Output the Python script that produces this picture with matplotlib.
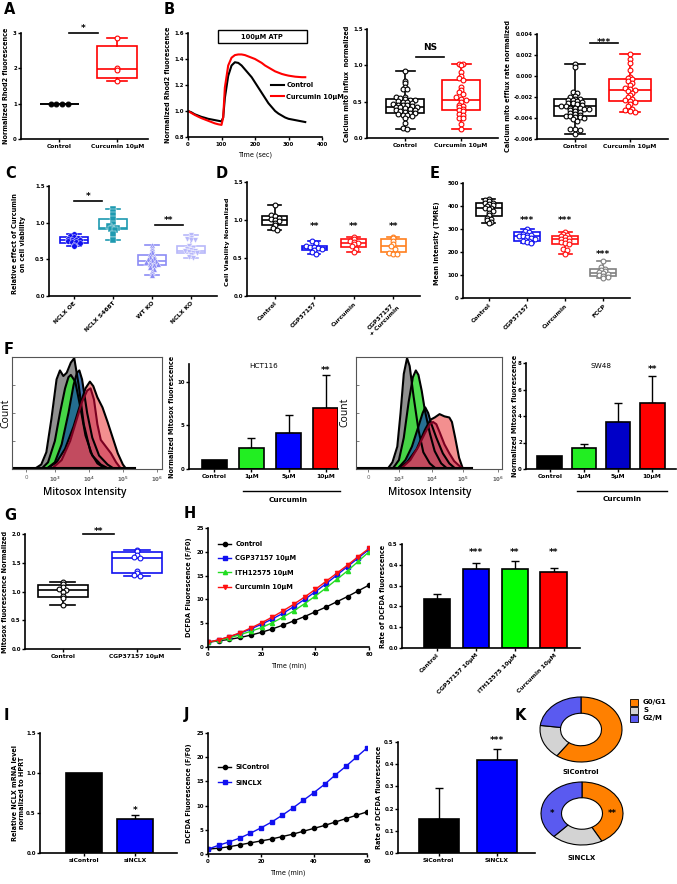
import numpy as np
import matplotlib
matplotlib.use('Agg')
import matplotlib.pyplot as plt
from matplotlib.patches import Rectangle
from matplotlib.lines import Line2D

plt.rcParams['font.family'] = ['DejaVu Sans']
plt.rcParams['font.weight'] = 'bold'

# ---------------- DATA ----------------
# Panel A
a_groups = ['Control', 'Curcumin 10µM']
a_ctrl = [1.0, 1.0, 1.0, 1.0]
a_curc = [2.85, 2.0, 1.95, 1.65]
a_ctrl_box = [1.0, 1.0, 1.0, 1.0, 1.0]      # whisker low, q1, median, q3, whisker high
a_curc_box = [1.65, 1.72, 1.97, 2.63, 2.85]

# Panel B traces
b_time = [0, 10, 20, 30, 40, 50, 60, 70, 80, 90, 100, 105, 110, 120, 130, 140, 150, 160, 170,
          180, 190, 200, 210, 220, 230, 240, 250, 260, 270, 280, 290, 300, 310, 320, 330, 340, 350]
b_ctrl = [1.0, 0.99, 0.975, 0.965, 0.955, 0.948, 0.94, 0.935, 0.93, 0.925, 0.92, 0.95, 1.10, 1.27,
          1.35, 1.375, 1.37, 1.35, 1.32, 1.29, 1.26, 1.22, 1.18, 1.14, 1.10, 1.06, 1.03, 1.0, 0.98,
          0.965, 0.95, 0.94, 0.935, 0.93, 0.925, 0.92, 0.915]
b_curc = [1.0, 0.985, 0.97, 0.957, 0.945, 0.935, 0.925, 0.915, 0.905, 0.898, 0.893, 0.95, 1.18,
          1.35, 1.41, 1.43, 1.435, 1.435, 1.43, 1.42, 1.41, 1.40, 1.385, 1.37, 1.35, 1.335, 1.32,
          1.305, 1.295, 1.285, 1.278, 1.272, 1.268, 1.264, 1.262, 1.26, 1.26]

# Panel B influx
influx_ctrl = [0.92, 0.79, 0.76, 0.70, 0.68, 0.67, 0.57, 0.56, 0.55, 0.53, 0.52, 0.52, 0.51, 0.50,
               0.49, 0.48, 0.47, 0.46, 0.45, 0.45, 0.44, 0.43, 0.42, 0.42, 0.41, 0.40, 0.39, 0.38,
               0.37, 0.36, 0.35, 0.34, 0.33, 0.32, 0.31, 0.30, 0.28, 0.20, 0.14, 0.13]
influx_curc = [1.02, 1.02, 1.01, 0.91, 0.85, 0.82, 0.80, 0.70, 0.66, 0.63, 0.61, 0.56, 0.53, 0.52,
               0.50, 0.46, 0.44, 0.42, 0.40, 0.38, 0.37, 0.33, 0.31, 0.28, 0.27, 0.19, 0.13]
influx_ctrl_box = [0.13, 0.35, 0.42, 0.53, 0.92]
influx_curc_box = [0.13, 0.38, 0.52, 0.80, 1.02]

# Panel B efflux
efflux_ctrl = [0.0011, 0.0009, -0.0015, -0.0016, -0.0019, -0.0020, -0.0022, -0.0022, -0.0023,
               -0.0023, -0.0024, -0.0025, -0.0026, -0.0026, -0.0027, -0.0028, -0.0029, -0.0029,
               -0.0030, -0.0030, -0.0030, -0.0031, -0.0031, -0.0032, -0.0033, -0.0034, -0.0035,
               -0.0036, -0.0037, -0.0038, -0.0038, -0.0039, -0.0039, -0.0040, -0.0041, -0.0043,
               -0.0050, -0.0050, -0.0051, -0.0055]
efflux_curc = [0.0021, 0.0016, 0.0012, 0.0006, -0.0001, -0.0002, -0.0003, -0.0005, -0.0007,
               -0.0009, -0.0011, -0.0012, -0.0013, -0.0014, -0.0016, -0.0018, -0.0020, -0.0022,
               -0.0023, -0.0024, -0.0025, -0.0027, -0.0029, -0.0031, -0.0032, -0.0033, -0.0034]
efflux_ctrl_box = [-0.0055, -0.0038, -0.0029, -0.0022, 0.0011]
efflux_curc_box = [-0.0034, -0.0024, -0.0013, -0.0003, 0.0021]

# Panel C
c_labels = ['NCLX OE', 'NCLX S468T', 'WT KO', 'NCLX KO']
c_pts = [
    [0.85, 0.82, 0.80, 0.79, 0.78, 0.77, 0.77, 0.76, 0.75, 0.74, 0.73, 0.72, 0.70, 0.68],
    [1.18, 1.14, 1.10, 1.05, 0.98, 0.95, 0.93, 0.93, 0.92, 0.90, 0.84, 0.77],
    [0.69, 0.66, 0.63, 0.60, 0.57, 0.55, 0.53, 0.52, 0.50, 0.49, 0.48, 0.47, 0.46, 0.45, 0.44,
     0.43, 0.42, 0.40, 0.37, 0.34, 0.31, 0.28],
    [0.83, 0.79, 0.78, 0.77, 0.76, 0.68, 0.66, 0.64, 0.63, 0.62, 0.61, 0.60, 0.59, 0.58, 0.56,
     0.53, 0.52],
]
c_boxes = [[0.68, 0.72, 0.77, 0.80, 0.85], [0.77, 0.92, 0.93, 1.05, 1.18],
           [0.28, 0.42, 0.48, 0.56, 0.69], [0.52, 0.58, 0.62, 0.68, 0.83]]

# Panel D
d_labels = ['Control', 'CGP37157', 'Curcumin', 'CGP37157\n+ Curcumin']
d_pts = [
    [1.20, 1.06, 1.05, 1.03, 1.01, 1.00, 0.99, 0.96, 0.93, 0.90, 0.87],
    [0.73, 0.70, 0.66, 0.65, 0.64, 0.63, 0.62, 0.61, 0.58, 0.55],
    [0.78, 0.75, 0.73, 0.71, 0.70, 0.69, 0.66, 0.62, 0.58],
    [0.78, 0.76, 0.73, 0.69, 0.66, 0.62, 0.57, 0.55, 0.55],
]
d_boxes = [[0.87, 0.93, 1.00, 1.05, 1.20], [0.55, 0.60, 0.63, 0.66, 0.73],
           [0.58, 0.64, 0.70, 0.75, 0.78], [0.55, 0.58, 0.66, 0.75, 0.78]]

# Panel E
e_labels = ['Control', 'CGP37157', 'Curcumin', 'FCCP']
e_pts = [
    [430, 425, 420, 415, 412, 408, 403, 398, 392, 390, 385, 380, 370, 360, 350, 345, 340, 330, 325],
    [298, 290, 285, 280, 276, 272, 270, 268, 266, 262, 258, 254, 250, 246, 242, 240],
    [285, 280, 275, 270, 265, 260, 255, 252, 248, 245, 240, 235, 215, 210, 190],
    [160, 135, 128, 122, 118, 112, 110, 106, 100, 95, 90, 85],
]
e_boxes = [[325, 355, 390, 415, 430], [240, 250, 268, 285, 298],
           [190, 235, 255, 270, 285], [85, 95, 110, 125, 160]]

# Panel F histograms (position in decade units, count in % of max)
hct_hist = {
    'gray': ([0.25, 0.45, 0.6, 0.75, 0.9, 1.0, 1.1, 1.2, 1.32, 1.42, 1.55, 1.7, 1.9, 2.1, 2.35],
             [0, 4, 15, 45, 80, 88, 83, 86, 95, 99, 75, 40, 15, 5, 0]),
    'green': ([0.45, 0.65, 0.85, 1.0, 1.15, 1.25, 1.32, 1.45, 1.6, 1.75, 1.95, 2.2, 2.45],
              [0, 6, 25, 50, 72, 82, 84, 78, 55, 30, 12, 4, 0]),
    'blue': ([0.6, 0.85, 1.05, 1.25, 1.4, 1.5, 1.57, 1.65, 1.8, 1.95, 2.15, 2.4, 2.6],
             [0, 6, 22, 50, 75, 86, 88, 80, 50, 28, 12, 4, 0]),
    'red1': ([0.6, 0.9, 1.15, 1.4, 1.6, 1.75, 1.88, 1.98, 2.1, 2.25, 2.4, 2.55, 2.7, 2.85, 2.95],
             [0, 6, 18, 38, 58, 72, 78, 74, 64, 55, 42, 28, 14, 4, 0]),
    'red2': ([0.75, 1.05, 1.3, 1.5, 1.65, 1.8, 1.9, 2.0, 2.1, 2.2, 2.35, 2.5, 2.65, 2.8],
             [0, 8, 25, 45, 60, 70, 72, 62, 40, 26, 20, 14, 6, 0]),
}
sw_hist = {
    'gray': ([0.6, 0.75, 0.9, 1.0, 1.1, 1.2, 1.28, 1.4, 1.55, 1.7, 1.9, 2.1],
             [0, 6, 20, 50, 85, 99, 92, 65, 35, 15, 5, 0]),
    'green': ([0.75, 0.95, 1.1, 1.25, 1.38, 1.47, 1.55, 1.65, 1.75, 1.9, 2.05, 2.25, 2.45],
              [0, 8, 28, 60, 82, 88, 84, 70, 52, 32, 16, 5, 0]),
    'blue': ([0.9, 1.15, 1.35, 1.55, 1.68, 1.76, 1.85, 1.95, 2.1, 2.3, 2.5, 2.7],
             [0, 8, 20, 38, 50, 55, 50, 40, 28, 14, 5, 0]),
    'red1': ([0.9, 1.2, 1.5, 1.75, 1.92, 2.05, 2.2, 2.35, 2.5, 2.58, 2.68, 2.8, 2.92],
             [0, 6, 18, 35, 44, 46, 49, 47, 46, 42, 28, 10, 0]),
    'red2': ([1.0, 1.3, 1.55, 1.75, 1.9, 2.0, 2.1, 2.2, 2.35, 2.5, 2.65, 2.8, 2.95],
             [0, 8, 20, 32, 40, 42, 40, 33, 22, 14, 7, 3, 0]),
}
hist_tick_labels = ['0', r'$10^3$', r'$10^4$', r'$10^5$', r'$10^6$']

# Panel F bars
f_labels = ['Control', '1µM', '5µM', '10µM']
hct_vals = [1.0, 2.4, 4.1, 7.0]
hct_sd = [0.0, 1.1, 2.1, 3.7]
sw_vals = [1.0, 1.6, 3.55, 5.0]
sw_sd = [0.0, 0.3, 1.45, 2.05]

# Panel G
g_labels = ['Control', 'CGP37157 10µM']
g_pts = [[1.16, 1.13, 1.08, 1.04, 1.02, 1.00, 0.93, 0.89, 0.77],
         [1.72, 1.70, 1.64, 1.60, 1.58, 1.35, 1.33, 1.29, 1.27]]
g_boxes = [[0.77, 0.90, 1.02, 1.11, 1.16], [1.27, 1.32, 1.58, 1.68, 1.72]]

# Panel H
h_time = [0, 4, 8, 12, 16, 20, 24, 28, 32, 36, 40, 44, 48, 52, 56, 60]
h_ctrl = [1.0, 1.3, 1.6, 2.0, 2.5, 3.1, 3.8, 4.6, 5.5, 6.4, 7.4, 8.4, 9.5, 10.6, 11.8, 13.0]
h_cgp = [1.0, 1.5, 2.1, 2.9, 3.8, 4.8, 5.9, 7.1, 8.5, 10.0, 11.6, 13.3, 15.1, 16.9, 18.7, 20.5]
h_ith = [1.0, 1.4, 1.9, 2.6, 3.3, 4.1, 5.1, 6.3, 7.6, 9.1, 10.7, 12.4, 14.2, 16.0, 18.0, 20.0]
h_curc = [1.0, 1.5, 2.2, 3.0, 4.0, 5.1, 6.3, 7.6, 9.0, 10.5, 12.1, 13.8, 15.5, 17.2, 19.0, 20.7]
hb_labels = ['Control', 'CGP37157 10µM', 'ITH12575 10µM', 'Curcumin 10µM']
hb_vals = [0.237, 0.38, 0.378, 0.367]
hb_sd = [0.025, 0.03, 0.042, 0.016]

# Panel I
i_labels = ['siControl', 'siNCLX']
i_vals = [1.0, 0.43]
i_sd = [0.0, 0.05]

# Panel J
j_time = [0, 4, 8, 12, 16, 20, 24, 28, 32, 36, 40, 44, 48, 52, 56, 60]
j_sictrl = [1.0, 1.2, 1.5, 1.9, 2.3, 2.7, 3.1, 3.6, 4.1, 4.7, 5.3, 5.9, 6.6, 7.3, 8.0, 8.7]
j_sinclx = [1.0, 1.8, 2.5, 3.3, 4.3, 5.4, 6.6, 8.0, 9.5, 11.1, 12.7, 14.4, 16.3, 18.1, 20.0, 21.9]
jb_labels = ['SiControl', 'SiNCLX']
jb_vals = [0.155, 0.42]
jb_sd = [0.14, 0.05]

# Panel K
k_phases = ['G0/G1', 'S', 'G2/M']
k_sicontrol = [60, 17, 23]
k_sinclx = [42, 20, 38]

# ---------------- FIGURE ----------------
W, H = 677, 884
fig = plt.figure(figsize=(W / 100, H / 100), dpi=100)
TFS = 4.3
YTFS = 3.9
LFS = 4.7
LW = 1.2


def add_ax(x0, y0, x1, y1):
    return fig.add_axes([x0 / W, 1 - y1 / H, (x1 - x0) / W, (y1 - y0) / H])


def prism(ax, xlim, ylim, yticks, yfmt=None):
    ax.set_xlim(xlim)
    ax.set_ylim(ylim)
    for s in ['top', 'right']:
        ax.spines[s].set_visible(False)
    for s in ['left', 'bottom']:
        ax.spines[s].set_linewidth(LW)
    ax.set_yticks(yticks)
    if yfmt:
        ax.set_yticklabels([yfmt % v for v in yticks])
    ax.tick_params(direction='out', length=2.0, width=1.0, labelsize=TFS, pad=1.5)
    ax.tick_params(axis='y', labelsize=YTFS, pad=1.0)


def cats(ax, labels, rot=0):
    ax.set_xticks(range(len(labels)))
    if rot:
        ax.set_xticklabels(labels, rotation=rot, ha='right', rotation_mode='anchor',
                           fontsize=TFS, multialignment='center')
    else:
        ax.set_xticklabels(labels, fontsize=TFS)


def ylab(ax, text, xpx, fs=LFS, dy=0):
    bb = ax.get_position()
    fig.text(xpx / W, (bb.y0 + bb.y1) / 2 - dy / H, text, rotation=90, ha='center',
             va='center', fontsize=fs, multialignment='center')


def letter(t, x, y):
    fig.text(x / W, 1 - y / H, t, fontsize=10.5, fontweight='bold', ha='left', va='center')


def swarm(vals, binw, dx):
    v = np.asarray(vals, float)
    keys = np.round(v / binw).astype(int)
    offs = np.zeros(len(v))
    for k in np.unique(keys):
        idx = np.where(keys == k)[0]
        n = len(idx)
        offs[idx] = (np.arange(n) - (n - 1) / 2) * dx
    return offs


def box(ax, i, st, color, width, capfrac=0.5):
    lo, q1, med, q3, hi = st
    ax.add_patch(Rectangle((i - width / 2, q1), width, q3 - q1, fill=False, edgecolor=color,
                           lw=LW, zorder=2))
    ax.plot([i - width / 2, i + width / 2], [med, med], color=color, lw=LW, zorder=2,
            solid_capstyle='butt')
    ax.plot([i, i], [q3, hi], color=color, lw=LW, zorder=2)
    ax.plot([i, i], [lo, q1], color=color, lw=LW, zorder=2)
    cw = width * capfrac / 2
    ax.plot([i - cw, i + cw], [hi, hi], color=color, lw=LW, zorder=2)
    ax.plot([i - cw, i + cw], [lo, lo], color=color, lw=LW, zorder=2)


def pts(ax, i, vals, binw, dx, color, fc='white', ec=None, marker='o', s=12, lw=0.8):
    offs = swarm(vals, binw, dx)
    ax.scatter(i + offs, vals, s=s, marker=marker, facecolor=fc,
               edgecolor=color if ec is None else ec, linewidth=lw, zorder=3)


def sig(ax, x0, x1, y, text, ty):
    ax.plot([x0, x1], [y, y], color='black', lw=LW, clip_on=False)
    ax.text((x0 + x1) / 2, ty, text, ha='center', va='center', fontsize=6.5, clip_on=False)


def stars(ax, x, y, text):
    ax.text(x, y, text, ha='center', va='center', fontsize=6.5, clip_on=False)


def bars(ax, vals, sd, colors, width):
    xs = np.arange(len(vals))
    ax.bar(xs, vals, width, color=colors, edgecolor='black', linewidth=LW, zorder=2)
    for x, v, e in zip(xs, vals, sd):
        if e > 0:
            ax.errorbar(x, v, yerr=[[0], [e]], color='black', capsize=3, elinewidth=1.0,
                        capthick=1.0, zorder=1)


# ---- Panel A ----
ax = add_ax(21, 33, 148, 139)
prism(ax, (-0.66, 1.53), (0, 3), [0, 1, 2, 3])
cats(ax, a_groups)
box(ax, 0, a_ctrl_box, 'black', 0.67)
box(ax, 1, a_curc_box, 'red', 0.69)
pts(ax, 0, a_ctrl, 0.08, 0.1, 'black', fc='black')
pts(ax, 1, a_curc, 0.08, 0.1, 'red')
sig(ax, 0.16, 0.66, 3.0, '*', 3.12)
ylab(ax, 'Normalized Rhod2 fluorescence', 6)
letter('A', 4, 10)

# ---- Panel B line ----
ax = add_ax(188, 33, 322, 137)
prism(ax, (0, 400), (0.8, 1.6), [0.8, 1.0, 1.2, 1.4, 1.6], '%.1f')
ax.set_xticks([0, 100, 200, 300, 400])
ax.tick_params(axis='x', labelsize=YTFS)
ax.plot(b_time, b_ctrl, color='black', lw=1.5, label='Control')
ax.plot(b_time, b_curc, color='red', lw=1.5, label='Curcumin 10µM')
ax.legend(loc='upper left', bbox_to_anchor=(0.62, 0.53), frameon=False, fontsize=4.8,
          handlelength=1.9, handletextpad=0.4, labelspacing=0.85, borderpad=0, borderaxespad=0)
ax.add_patch(Rectangle((90, 1.523), 265, 0.1, fill=False, ec='black', lw=1.0, clip_on=False))
ax.text(222, 1.573, '100µM ATP', ha='center', va='center', fontsize=4.8)
ax.set_xlabel('Time (sec)', fontsize=LFS, labelpad=3)
ylab(ax, 'Normalized Rhod2 fluorescence', 168)
letter('B', 164, 10)

# ---- Panel B influx ----
ax = add_ax(367, 29, 498, 138)
prism(ax, (-0.68, 1.66), (0, 1.5), [0, 0.5, 1.0, 1.5], '%.1f')
cats(ax, a_groups)
box(ax, 0, influx_ctrl_box, 'black', 0.68)
box(ax, 1, influx_curc_box, 'red', 0.68)
pts(ax, 0, influx_ctrl, 0.045, 0.085, 'black')
pts(ax, 1, influx_curc, 0.045, 0.085, 'red')
sig(ax, 0.2, 0.7, 1.11, 'NS', 1.25)
ylab(ax, 'Calcium mito influx  normalized', 347)

# ---- Panel B efflux ----
ax = add_ax(537, 34, 668, 139)
prism(ax, (-0.69, 1.69), (-0.006, 0.004), [-0.006, -0.004, -0.002, 0.0, 0.002, 0.004], '%.3f')
cats(ax, a_groups)
box(ax, 0, efflux_ctrl_box, 'black', 0.75)
box(ax, 1, efflux_curc_box, 'red', 0.75)
pts(ax, 0, efflux_ctrl, 0.0003, 0.085, 'black')
pts(ax, 1, efflux_curc, 0.0003, 0.085, 'red')
sig(ax, 0.27, 0.78, 0.0031, '***', 0.0032)
ylab(ax, 'Calcium mito efflux rate normalized', 508)

# ---- Panel C ----
ax = add_ax(49, 186, 217, 296)
prism(ax, (-0.64, 3.67), (0, 1.5), [0, 0.5, 1.0, 1.5], '%.1f')
cats(ax, c_labels, rot=45)
c_cols = ['#1010F0', '#1E9AB0', '#8C8CF5', '#B8B8FA']
c_mk = ['o', 's', '^', 'v']
for i in range(4):
    box(ax, i, c_boxes[i], c_cols[i], 0.7)
    pts(ax, i, c_pts[i], 0.035, 0.1, c_cols[i], fc=c_cols[i], ec='white', marker=c_mk[i],
        s=16, lw=0.3)
sig(ax, 0, 0.73, 1.30, '*', 1.36)
sig(ax, 2.08, 2.79, 0.97, '**', 1.03)
ylab(ax, 'Relative effect of Curcumin\non cell viability', 19, dy=3)
letter('C', 5, 173)

# ---- Panel D ----
ax = add_ax(247, 182, 420, 296)
prism(ax, (-0.7, 3.68), (0, 1.5), [0, 0.5, 1.0, 1.5], '%.1f')
cats(ax, d_labels, rot=45)
d_cols = ['black', '#1010F0', '#FF1010', '#FF7F1E']
for i in range(4):
    box(ax, i, d_boxes[i], d_cols[i], 0.63)
    pts(ax, i, d_pts[i], 0.04, 0.1, d_cols[i])
    if i > 0:
        stars(ax, i, 0.91, '**')
ylab(ax, 'Cell Viability Normalized', 227, fs=4.6, dy=3)
letter('D', 216, 174)

# ---- Panel E ----
ax = add_ax(463, 183, 630, 298)
prism(ax, (-0.68, 3.7), (0, 500), [0, 100, 200, 300, 400, 500])
cats(ax, e_labels, rot=45)
e_cols = ['black', '#1010F0', '#FF1010', '#808080']
for i in range(4):
    box(ax, i, e_boxes[i], e_cols[i], 0.68)
    pts(ax, i, e_pts[i], 12, 0.11, e_cols[i])
stars(ax, 1, 335, '***')
stars(ax, 2, 335, '***')
stars(ax, 3, 190, '***')
ylab(ax, 'Mean Intensity (TMRE)', 437, dy=3)
letter('E', 430, 174)


# ---- Panel F histograms ----
def hist(ax, curves, ticks, xlim):
    cols = {'gray': ('#8A8A8A', 'black', 0.95), 'green': ('#3EDC3E', 'black', 0.9),
            'blue': ('#1F5C9E', 'black', 0.85), 'red1': ('#F06A6A', 'black', 0.75),
            'red2': ('#C83250', '#7A0020', 0.55)}
    for k in ['gray', 'green', 'blue', 'red1', 'red2']:
        xs, ys = curves[k]
        fc, ec, al = cols[k]
        ax.fill_between(xs, ys, color=fc, alpha=al, lw=0)
        ax.plot(xs, ys, color=ec, lw=1.5, solid_joinstyle='round')
    ax.plot([xlim[0], 3.2], [0.8, 0.8], color='black', lw=1.5)
    ax.set_xlim(xlim)
    ax.set_ylim(0, 100)
    ax.set_xticks(ticks)
    ax.set_xticklabels(hist_tick_labels, fontweight='normal')
    ax.set_yticks([25, 50, 75])
    ax.set_yticklabels([])
    for s in ax.spines.values():
        s.set_linewidth(0.8)
        s.set_color('#555555')
    ax.tick_params(axis='x', direction='out', length=2, width=0.6, labelsize=4,
                   labelcolor='#666666', color='#666666', pad=2)
    ax.tick_params(axis='y', direction='in', length=2, width=0.6, color='#666666')


ax = add_ax(12, 357, 162, 469)
hist(ax, hct_hist, [0, 0.85, 1.85, 2.85, 3.85], (-0.41, 4.0))
fig.text(85 / W, 1 - 493 / H, 'Mitosox Intensity', ha='center', va='center', fontsize=7.2,
         fontweight='semibold', family=['Open Sans', 'DejaVu Sans'])
fig.text(6 / W, 1 - 413 / H, 'Count', ha='center', va='center', rotation=90, fontsize=7.5,
         fontweight='normal', family=['Open Sans', 'DejaVu Sans'])

ax = add_ax(356, 357, 502, 469)
hist(ax, sw_hist, [0, 0.95, 1.97, 2.92, 4.0], (-0.37, 4.12))
fig.text(430 / W, 1 - 492 / H, 'Mitosox Intensity', ha='center', va='center', fontsize=7.2,
         fontweight='semibold', family=['Open Sans', 'DejaVu Sans'])
fig.text(345 / W, 1 - 412 / H, 'Count', ha='center', va='center', rotation=90, fontsize=7.5,
         fontweight='normal', family=['Open Sans', 'DejaVu Sans'])
letter('F', 4, 350)

# ---- Panel F bars ----
ax = add_ax(189, 364, 338, 469)
prism(ax, (-0.68, 3.33), (0, 12), [0, 5, 10])
cats(ax, f_labels)
bars(ax, hct_vals, hct_sd, ['black', '#22EE22', '#0000FF', '#FF0000'], 0.68)
stars(ax, 3, 11.2, '**')
ax.set_title('HCT116', fontsize=5.2, pad=0, y=0.96)
ylab(ax, 'Normalized Mitosox fluorescence', 172)
fig.add_artist(Line2D([243 / W, 340 / W], [1 - 491 / H] * 2, color='black', lw=1.0))
fig.text(288 / W, 1 - 500 / H, 'Curcumin', ha='center', va='center', fontsize=5.2)

ax = add_ax(526, 363, 676, 469)
prism(ax, (-0.7, 3.7), (0, 8), [0, 2, 4, 6, 8])
cats(ax, f_labels)
bars(ax, sw_vals, sw_sd, ['black', '#22EE22', '#0000C8', '#FF0000'], 0.73)
stars(ax, 3, 7.5, '**')
ax.set_title('SW48', fontsize=5.2, pad=0, y=0.95)
ylab(ax, 'Normalized Mitosox fluorescence', 515)
fig.add_artist(Line2D([577 / W, 667 / W], [1 - 491 / H] * 2, color='black', lw=1.0))
fig.text(622 / W, 1 - 499 / H, 'Curcumin', ha='center', va='center', fontsize=5.2)

# ---- Panel G ----
ax = add_ax(25, 534, 180, 649)
prism(ax, (-0.51, 1.58), (0, 2.0), [0, 0.5, 1.0, 1.5, 2.0], '%.1f')
cats(ax, g_labels)
box(ax, 0, g_boxes[0], 'black', 0.68)
box(ax, 1, g_boxes[1], '#1010F0', 0.68)
pts(ax, 0, g_pts[0], 0.04, 0.09, 'black')
pts(ax, 1, g_pts[1], 0.04, 0.09, '#1010F0')
sig(ax, 0.27, 0.69, 2.0, '**', 2.05)
ylab(ax, 'Mitosox fluorescence Normalized', 5)
letter('G', 4, 515)

# ---- Panel H line ----
ax = add_ax(208, 528, 369, 647)
prism(ax, (0, 60), (0, 25), [0, 5, 10, 15, 20, 25])
ax.set_xticks([0, 20, 40, 60])
ax.tick_params(axis='x', labelsize=YTFS)
ax.plot(h_time, h_ctrl, '-o', color='black', ms=3, lw=1.0, label='Control')
ax.plot(h_time, h_cgp, '-s', color='#1010F0', ms=3, lw=1.0, label='CGP37157 10µM')
ax.plot(h_time, h_ith, '-^', color='#22DD22', ms=3, lw=1.0, label='ITH12575 10µM')
ax.plot(h_time, h_curc, '-v', color='#FF1010', ms=3, lw=1.0, label='Curcumin 10µM')
ax.legend(loc='upper left', bbox_to_anchor=(0.062, 0.89), frameon=False, fontsize=4.8,
          handlelength=2.0, handletextpad=0.6, labelspacing=1.25, borderpad=0, borderaxespad=0)
ax.set_xlabel('Time (min)', fontsize=LFS, labelpad=4)
ylab(ax, 'DCFDA Fluorescence (F/F0)', 189)
letter('H', 184, 513)

# ---- Panel H bars ----
ax = add_ax(402, 544, 580, 648)
prism(ax, (-0.9, 3.67), (0, 0.5), [0, 0.1, 0.2, 0.3, 0.4, 0.5], '%.1f')
cats(ax, hb_labels, rot=45)
bars(ax, hb_vals, hb_sd, ['black', '#0000FF', '#00FF00', '#FF0000'], 0.69)
stars(ax, 1, 0.46, '***')
stars(ax, 2, 0.46, '**')
stars(ax, 3, 0.46, '**')
ylab(ax, 'Rate of DCFDA fluorescence', 383)

# ---- Panel I ----
ax = add_ax(40, 733, 177, 853)
prism(ax, (-0.86, 1.82), (0, 1.5), [0, 0.5, 1.0, 1.5], '%.1f')
cats(ax, i_labels)
bars(ax, i_vals, i_sd, ['black', '#0000FF'], 0.72)
stars(ax, 1, 0.53, '*')
ylab(ax, 'Relative NCLX mRNA level\nnormalized to HPRT', 19)
letter('I', 4, 716)

# ---- Panel J line ----
ax = add_ax(208, 733, 367, 854)
prism(ax, (0, 60), (0, 25), [0, 5, 10, 15, 20, 25])
ax.set_xticks([0, 20, 40, 60])
ax.tick_params(axis='x', labelsize=YTFS)
ax.plot(j_time, j_sictrl, '-o', color='black', ms=3, lw=1.0, label='SiControl')
ax.plot(j_time, j_sinclx, '-s', color='#1010F0', ms=3, lw=1.0, label='SiNCLX')
ax.legend(loc='upper left', bbox_to_anchor=(0.063, 0.745), frameon=False, fontsize=4.8,
          handlelength=2.0, handletextpad=0.6, labelspacing=1.45, borderpad=0, borderaxespad=0)
ax.set_xlabel('Time (min)', fontsize=LFS, labelpad=4)
ylab(ax, 'DCFDA Fluorescence (F/F0)', 189)
letter('J', 184, 715)

# ---- Panel J bars ----
ax = add_ax(398, 742, 535, 853)
prism(ax, (-0.7, 1.65), (0, 0.5), [0, 0.1, 0.2, 0.3, 0.4, 0.5], '%.1f')
cats(ax, jb_labels)
bars(ax, jb_vals, jb_sd, ['black', '#0000FF'], 0.69)
stars(ax, 1, 0.505, '***')
ylab(ax, 'Rate of DCFDA fluorescence', 379)

# ---- Panel K ----
k_cols = ['#FF8000', '#D3D3D3', '#5A5AF0']
for (vals, cx, cy, rx, ry, name, ny) in [(k_sicontrol, 581, 729.5, 41, 32.5, 'SiControl', 772),
                                         (k_sinclx, 582, 813.5, 41, 31.5, 'SiNCLX', 858)]:
    ax = add_ax(cx - 1.25 * rx, cy - 1.25 * ry, cx + 1.25 * rx, cy + 1.25 * ry)
    ax.pie(vals, colors=k_cols, startangle=90, counterclock=False, radius=1,
           wedgeprops=dict(width=0.5, edgecolor='black', linewidth=0.8))
    ax.set_aspect('auto')
    ax.set_xlim(-1.25, 1.25)
    ax.set_ylim(-1.25, 1.25)
    fig.text(cx / W, 1 - ny / H, name, ha='center', va='center', fontsize=5)
    if name == 'SiNCLX':
        ax.text(-0.72, 0.0, '*', ha='center', va='center', fontsize=6)
        ax.text(0.74, 0.0, '**', ha='center', va='center', fontsize=6)
for j, (lab, c) in enumerate(zip(k_phases, k_cols)):
    yy = 702 + 8 * j
    fig.add_artist(Rectangle((630 / W, 1 - (yy + 3.5) / H), 8 / W, 7 / H, facecolor=c,
                             edgecolor='black', lw=0.6, transform=fig.transFigure))
    fig.text(643 / W, 1 - yy / H, lab, ha='left', va='center', fontsize=5)
letter('K', 515, 716)

fig.savefig('out.png', dpi=100)
